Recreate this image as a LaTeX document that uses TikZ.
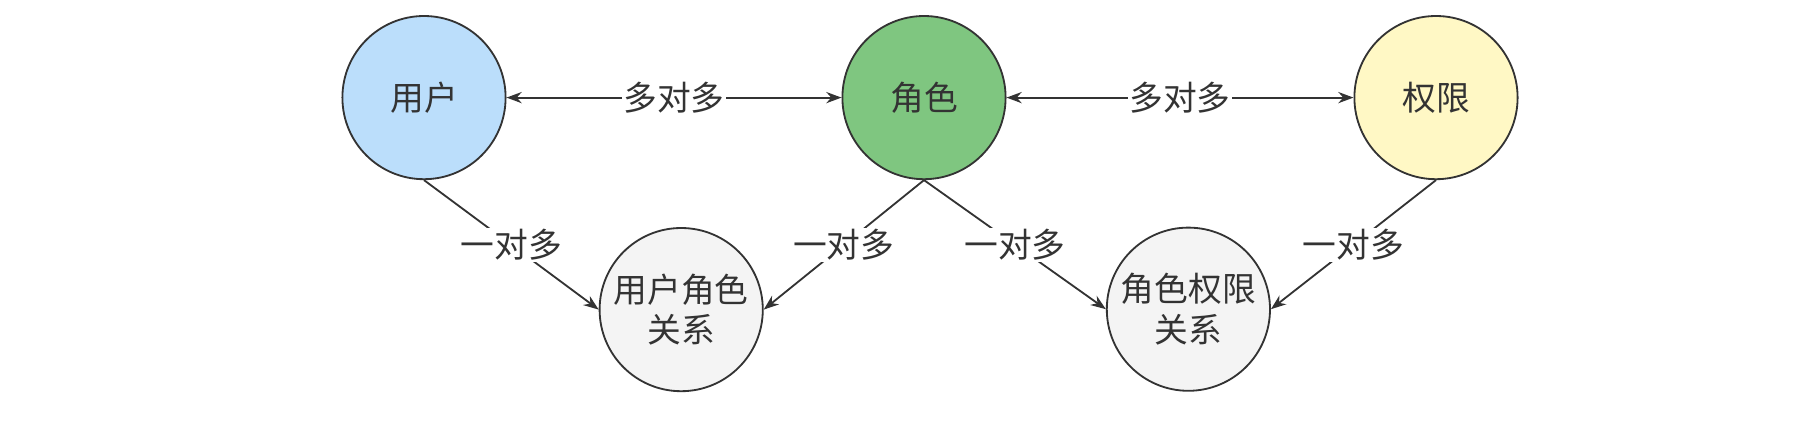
\documentclass[tikz,border=0pt]{standalone}
\usepackage{fontspec}
\setmainfont{Noto Sans CJK SC}
\usetikzlibrary{arrows.meta}
\definecolor{userblue}{HTML}{BBDEFB}
\definecolor{rolegreen}{HTML}{7FC680}
\definecolor{permyellow}{HTML}{FFF8C5}
\definecolor{relgray}{HTML}{F4F4F4}
\definecolor{ink}{HTML}{333333}

\begin{document}
\begin{tikzpicture}[
    entity/.style={circle,draw=ink,line width=1.3pt,minimum size=4.08cm,inner sep=0pt,
      text=ink,align=center,font=\fontsize{24}{29}\selectfont},
    link/.style={draw=ink,line width=1.3pt,>={Stealth[length=0.38cm,width=0.28cm]}},
    tag/.style={fill=white,text=ink,inner sep=1pt,font=\fontsize{24}{29}\selectfont}
  ]
    \useasboundingbox (0,0) rectangle (45.025,-10.875);

    % Users, roles, permissions
    \node[entity,fill=userblue] (user) at (10.6,-2.44) {用户};
    \node[entity,fill=rolegreen] (role) at (23.1,-2.44) {角色};
    \node[entity,fill=permyellow] (perm) at (35.9,-2.44) {权限};

    % Relation tables
    \node[entity,fill=relgray] (userrole) at (17.03,-7.74) {用户角色\\关系};
    \node[entity,fill=relgray] (roleperm) at (29.71,-7.73) {角色权限\\关系};

    % Many-to-many
    \draw[link,<->] (user) -- node[tag] {多对多} (role);
    \draw[link,<->] (role) -- node[tag] {多对多} (perm);

    % One-to-many
    \draw[link,->] (user.south) -- node[tag] {一对多} (userrole.west);
    \draw[link,->] (role.south) -- node[tag] {一对多} (userrole.east);
    \draw[link,->] (role.south) -- node[tag] {一对多} (roleperm.west);
    \draw[link,->] (perm.south) -- node[tag] {一对多} (roleperm.east);
  \end{tikzpicture}
\end{document}
